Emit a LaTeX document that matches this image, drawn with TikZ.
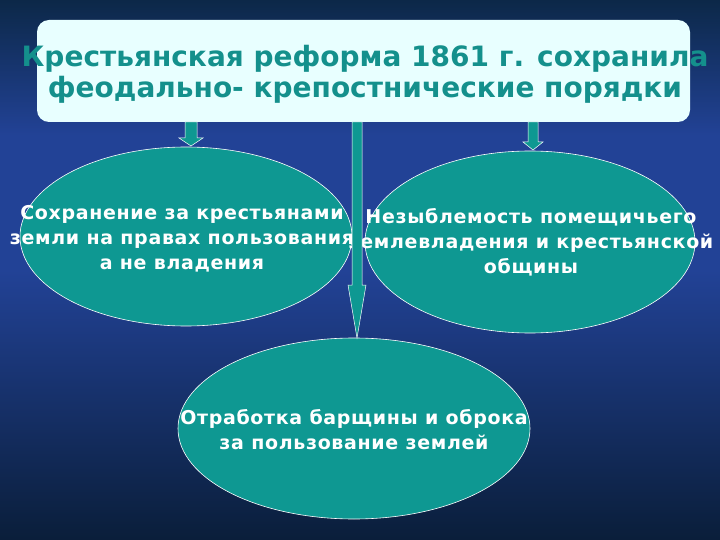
\documentclass[tikz,border=0pt]{standalone}
\usepackage{fontspec}
\setmainfont{DejaVu Sans}
\usetikzlibrary{calc,shapes.geometric}
\definecolor{bgtop}{RGB}{12,40,72}
\definecolor{bgmid}{RGB}{34,66,150}
\definecolor{bgbot}{RGB}{10,30,58}
\definecolor{tealfill}{RGB}{14,152,146}
\definecolor{titletext}{RGB}{20,144,140}
\definecolor{titlefill}{RGB}{232,255,255}
\tikzset{
  oval/.style={ellipse, fill=tealfill, draw=white, line width=0.6pt, inner sep=0pt},
  ovaltext/.style={text=white, font=\bfseries\fontsize{19}{25}\selectfont\addfontfeatures{LetterSpace=3.5}, align=center},
  arr/.style={fill=tealfill, draw=white, line width=0.5pt, line join=miter},
}
\newcommand\blockarr[5]{%
  \draw[arr] let \p1=(#1), \p2=(#2) in
    (\x1-#3,\y1) -- (\x1-#3,\y2+#5) -- (\x1-#4,\y2+#5) -- (\x1,\y2)
    -- (\x1+#4,\y2+#5) -- (\x1+#3,\y2+#5) -- (\x1+#3,\y1) -- cycle;}
\begin{document}
\begin{tikzpicture}[x=1pt,y=-1pt]
\useasboundingbox (0,0) rectangle (720,540);
\shade[top color=bgtop, bottom color=bgmid, middle color=bgmid] (0,0) rectangle (720,270);
\shade[top color=bgmid, bottom color=bgbot] (0,270) rectangle (720,540);
\node[draw=none, fill=titlefill, rounded corners=12pt, minimum width=653pt, minimum height=102pt, inner sep=0pt] (title) at (363.5,71) {};
\node[text=titletext, font=\bfseries\fontsize{28}{31}\selectfont, align=center] (titletxt) at (365,74) {Крестьянская реформа 1861 г. сохранила\\феодально- крепостнические порядки};
\node[oval, minimum width=332pt, minimum height=179pt] (left) at (186,236.5) {};
\node[oval, minimum width=330pt, minimum height=182pt] (right) at (530,242) {};
\node[oval, minimum width=352pt, minimum height=181pt] (bottom) at (354,428.5) {};
\node[ovaltext] (lefttxt) at (182,239) {Сохранение за крестьянами\\земли на правах пользования\\а не владения};
\node[ovaltext] (righttxt) at (531,242) {Незыблемость помещичьего\\землевладения и крестьянской\\общины};
\node[ovaltext] (bottomtxt) at (354,430) {Отработка барщины и оброка\\за пользование землей};
\coordinate (a1s) at (191,122);
\coordinate (a1e) at (191,146);
\coordinate (a2s) at (533,122);
\coordinate (a2e) at (533,150);
\coordinate (a3s) at (357,122);
\coordinate (a3e) at (357,338);
\blockarr{a1s}{a1e}{6pt}{12pt}{8pt}
\blockarr{a2s}{a2e}{5pt}{10pt}{8pt}
\blockarr{a3s}{a3e}{5pt}{9pt}{53pt}
\end{tikzpicture}
\end{document}
